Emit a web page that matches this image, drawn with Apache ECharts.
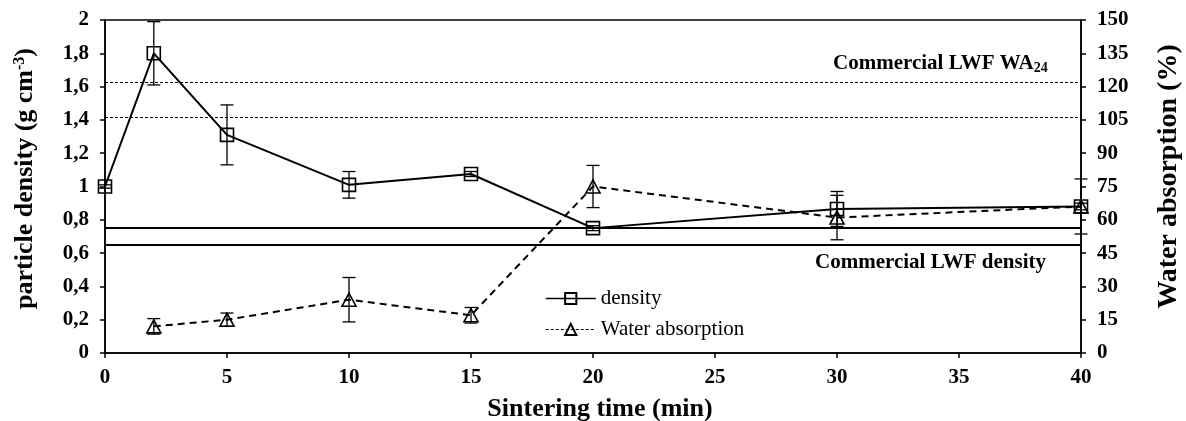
<!DOCTYPE html>
<html>
<head>
<meta charset="utf-8">
<script src="https://cdn.jsdelivr.net/npm/echarts@6/dist/echarts.min.js"></script>
<style>
html,body{margin:0;padding:0;background:#fff;}
#chart{width:1186px;height:421px;}
</style>
</head>
<body>
<div id="chart"></div>
<script>
// ---- data ----
var densityTimes = [0, 2, 5, 10, 15, 20, 30, 40];
var densityValues = [1.00, 1.80, 1.31, 1.01, 1.075, 0.75, 0.865, 0.88];
var densityErr = [0.01, 0.19, 0.18, 0.08, 0.015, 0.015, 0.105, 0.02];
var waterTimes = [2, 5, 10, 15, 20, 30, 40];
var waterValues = [12, 15, 24, 17, 75, 61, 66];
var waterErr = [3.5, 3, 10, 3.5, 9.5, 10, 12.4];
var densityRefLines = [0.65, 0.75];
var waterRefLines = [106, 122];
var seriesNames = ['density', 'Water absorption'];

var FONT = "'Liberation Serif','Times New Roman',serif";

function pairs(xs, ys) { return xs.map(function (x, i) { return [x, ys[i]]; }); }
function errs(xs, ys, es) { return xs.map(function (x, i) { return [x, ys[i] - es[i], ys[i] + es[i]]; }); }

function errRender(params, api) {
  var x = api.value(0);
  var lo = api.coord([x, api.value(1)]);
  var hi = api.coord([x, api.value(2)]);
  var w = 6.5;
  var st = { stroke: '#000', lineWidth: 1.3 };
  return {
    type: 'group',
    children: [
      { type: 'line', shape: { x1: lo[0], y1: lo[1], x2: hi[0], y2: hi[1] }, style: st },
      { type: 'line', shape: { x1: lo[0] - w, y1: lo[1], x2: lo[0] + w, y2: lo[1] }, style: st },
      { type: 'line', shape: { x1: hi[0] - w, y1: hi[1], x2: hi[0] + w, y2: hi[1] }, style: st }
    ]
  };
}

var chart = echarts.init(document.getElementById('chart'));
var axisLabelStyle = { color: '#000', fontFamily: FONT, fontWeight: 'bold', fontSize: 21 };
var nameStyle = { color: '#000', fontFamily: FONT, fontWeight: 'bold', fontSize: 26 };

var option = {
  animation: false,
  backgroundColor: '#fff',
  grid: { left: 105, right: 105, top: 20, bottom: 68, show: true, borderColor: '#000', borderWidth: 1.5, containLabel: false, outerBoundsMode: 'none' },
  legend: {
    orient: 'vertical',
    left: 540,
    top: 283,
    itemWidth: 50,
    itemHeight: 14,
    itemGap: 10,
    textStyle: { color: '#000', fontFamily: FONT, fontSize: 21, lineHeight: 21 },
    data: [
      { name: seriesNames[0], lineStyle: { type: 'solid', width: 1.5, color: '#000' } },
      { name: seriesNames[1], lineStyle: { type: [3, 2], width: 1, color: '#000' } }
    ]
  },
  xAxis: {
    type: 'value', min: 0, max: 40, interval: 5,
    name: 'Sintering time (min)', nameLocation: 'middle', nameGap: 43,
    nameTextStyle: Object.assign({}, nameStyle, { padding: [0, 0, 0, 14] }),
    axisLine: { lineStyle: { color: '#000', width: 1.5 } },
    axisTick: { show: true, length: 5, lineStyle: { color: '#000', width: 1.5 } },
    axisLabel: Object.assign({ margin: 14 }, axisLabelStyle),
    splitLine: { show: false }
  },
  yAxis: [
    {
      type: 'value', min: 0, max: 2, interval: 0.2,
      name: 'particle density (g cm{sup|-3}{t|)}',
      nameLocation: 'middle', nameGap: 67, nameRotate: 90,
      nameTextStyle: Object.assign({}, nameStyle, {
        padding: [0, 0, 0, 16],
        rich: {
          sup: { fontFamily: FONT, fontWeight: 'bold', fontSize: 16, color: '#000', verticalAlign: 'top', padding: [0, 0, 10, 0] },
          t: { fontFamily: FONT, fontWeight: 'bold', fontSize: 26, color: '#000' }
        }
      }),
      axisLine: { show: true, lineStyle: { color: '#000', width: 1.5 } },
      axisTick: { show: true, length: 5, lineStyle: { color: '#000', width: 1.5 } },
      axisLabel: Object.assign({ margin: 16, formatter: function (v) { return String(+v.toFixed(1)).replace('.', ','); } }, axisLabelStyle),
      splitLine: { show: false }
    },
    {
      type: 'value', min: 0, max: 150, interval: 15, position: 'right',
      name: 'Water absorption (%)',
      nameLocation: 'middle', nameGap: 74, nameRotate: 90,
      nameTextStyle: Object.assign({}, nameStyle, { fontSize: 28, padding: [0, 0, 0, 20] }),
      axisLine: { show: true, lineStyle: { color: '#000', width: 1.5 } },
      axisTick: { show: true, length: 5, lineStyle: { color: '#000', width: 1.5 } },
      axisLabel: Object.assign({ margin: 16 }, axisLabelStyle),
      splitLine: { show: false }
    }
  ],
  series: [
    {
      name: 'densityErr', type: 'custom', yAxisIndex: 0, z: 3,
      renderItem: errRender, data: errs(densityTimes, densityValues, densityErr), silent: true
    },
    {
      name: 'waterErr', type: 'custom', yAxisIndex: 1, z: 3,
      renderItem: errRender, data: errs(waterTimes, waterValues, waterErr), silent: true
    },
    {
      name: seriesNames[0], type: 'line', yAxisIndex: 0, z: 5,
      data: pairs(densityTimes, densityValues),
      symbol: 'rect', symbolSize: 13,
      itemStyle: { color: 'rgba(0,0,0,0)', borderColor: '#000', borderWidth: 1.6 },
      lineStyle: { color: '#000', width: 2 },
      markLine: {
        silent: true, symbol: 'none', label: { show: false },
        lineStyle: { color: '#000', width: 2, type: 'solid' },
        data: densityRefLines.map(function (v) { return { yAxis: v }; })
      }
    },
    {
      name: seriesNames[1], type: 'line', yAxisIndex: 1, z: 5,
      data: pairs(waterTimes, waterValues),
      symbol: 'triangle', symbolSize: [14, 13],
      itemStyle: { color: 'rgba(0,0,0,0)', borderColor: '#000', borderWidth: 1.6 },
      lineStyle: { color: '#000', width: 2, type: [7, 5] },
      markLine: {
        silent: true, symbol: 'none', label: { show: false },
        lineStyle: { color: '#000', width: 1, type: [3, 2] },
        data: waterRefLines.map(function (v) { return { yAxis: v }; })
      }
    }
  ],
  graphic: [
    {
      type: 'text', left: 833, top: 53, z: 10,
      style: {
        text: 'Commercial LWF WA{sub|24}',
        fill: '#000', fontFamily: FONT, fontWeight: 'bold', fontSize: 21,
        rich: { sub: { fontFamily: FONT, fontWeight: 'bold', fontSize: 14, verticalAlign: 'bottom', padding: [9, 0, 0, 0], fill: '#000' } }
      }
    },
    {
      type: 'text', left: 815, top: 252, z: 10,
      style: { text: 'Commercial LWF density', fill: '#000', fontFamily: FONT, fontWeight: 'bold', fontSize: 21 }
    }
  ]
};
chart.setOption(option);
</script>
</body>
</html>
